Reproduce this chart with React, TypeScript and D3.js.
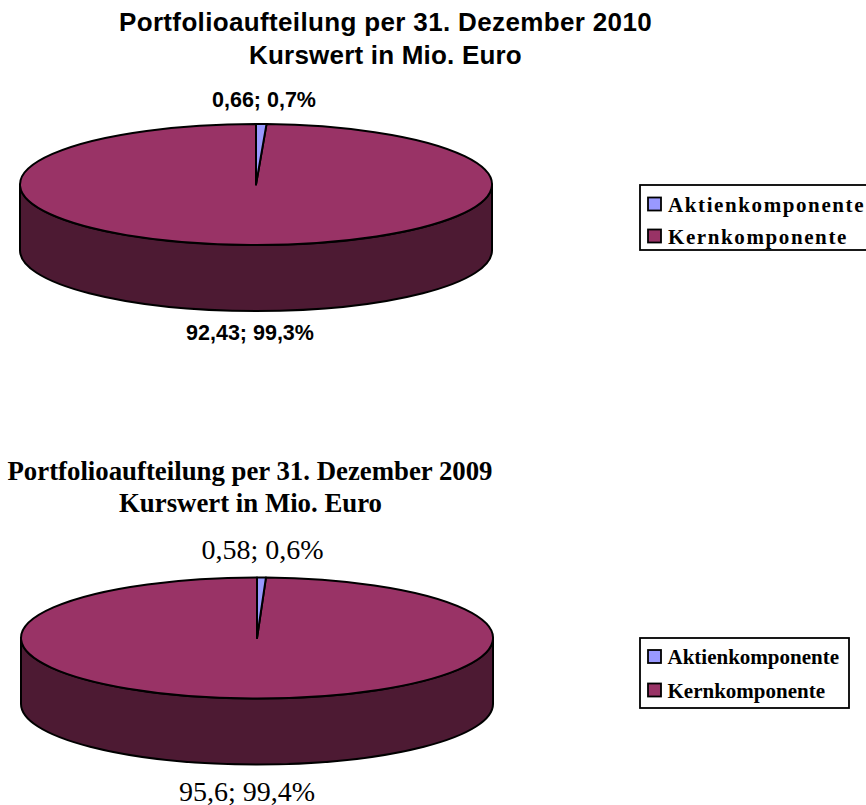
import * as d3 from "d3";
import React from "react";

const SANS = "'Liberation Sans', Arial, sans-serif";
const SERIF = "'Liberation Serif', 'Times New Roman', serif";

const categories = ["Aktienkomponente", "Kernkomponente"];
const colors = ["#9999ff", "#993366"];
const sideColor = "#4d1a33";

const values2010 = [0.66, 92.43];
const labels2010 = ["0,66; 0,7%", "92,43; 99,3%"];
const title2010 = ["Portfolioaufteilung per 31. Dezember 2010", "Kurswert in Mio. Euro"];

const values2009 = [0.58, 95.6];
const labels2009 = ["0,58; 0,6%", "95,6; 99,4%"];
const title2009 = ["Portfolioaufteilung per 31. Dezember 2009", "Kurswert in Mio. Euro"];

const rx = 236;
const ry = 60.5;
const depth = 66;

const Pie3D: React.FC<{ values: number[]; cx: number; cy: number; strokeWidth: number }> = ({ values, cx, cy, strokeWidth }) => {
    const arcs = d3.pie<number>().sort(null).value(d => d)(values);
    const arc = d3.arc<d3.PieArcDatum<number>>().innerRadius(0).outerRadius(rx);
    const k = ry / rx;
    // side wall, drawn in circle space so the group scale squashes it
    const wall = d3.path();
    const d = depth / k;
    wall.moveTo(-rx, 0);
    wall.arc(0, 0, rx, Math.PI, 0, true);
    wall.lineTo(rx, d);
    wall.arc(0, d, rx, 0, Math.PI, false);
    wall.closePath();
    const common = { stroke: "#000", strokeWidth, strokeLinejoin: "round" as const, vectorEffect: "non-scaling-stroke" as const };
    return (
        <g transform={`translate(${cx},${cy}) scale(1,${k})`}>
            <path d={wall.toString()} fill={sideColor} {...common} />
            <path d={arc(arcs[1])!} fill={colors[1]} {...common} />
            <path d={arc(arcs[0])!} fill={colors[0]} {...common} />
        </g>
    );
};

const Legend: React.FC<{ x: number; y: number; w: number; h: number; rows: number[]; fontSize: number; spacing: number; textX: number }> = ({ x, y, w, h, rows, fontSize, spacing, textX }) => (
    <g>
        <rect x={x} y={y} width={w} height={h} fill="#fff" stroke="#000" strokeWidth={1.8} />
        {categories.map((c, i) => (
            <g key={c}>
                <rect x={x + 8} y={rows[i] - 6.5} width={13} height={13} fill={colors[i]} stroke="#000" strokeWidth={1.8} />
                <text x={textX} y={rows[i] + 7.5} fontFamily={SERIF} fontWeight="bold" fontSize={fontSize} letterSpacing={spacing} fill="#000">{c}</text>
            </g>
        ))}
    </g>
);

export default function App() {
    return (
        <svg width={866} height={805} style={{ position: "absolute", left: 0, top: 0 }}>
            <g fontFamily={SANS} fontWeight="bold" textAnchor="middle" fill="#000">
                <text x={385.5} y={30.5} fontSize={26} letterSpacing={0.35}>{title2010[0]}</text>
                <text x={385.5} y={64} fontSize={26} letterSpacing={0.2}>{title2010[1]}</text>
                <text x={264} y={106.5} fontSize={21.5}>{labels2010[0]}</text>
                <text x={250} y={340} fontSize={21.5}>{labels2010[1]}</text>
            </g>
            <Pie3D values={values2010} cx={256} cy={184.5} strokeWidth={2} />
            <Legend x={640} y={185} w={240} h={65} rows={[204, 236]} fontSize={21} spacing={1.6} textX={668} />

            <g fontFamily={SERIF} textAnchor="middle" fill="#000">
                <text x={250} y={479.5} fontSize={26.8} fontWeight="bold">{title2009[0]}</text>
                <text x={250.5} y={512} fontSize={26.8} fontWeight="bold">{title2009[1]}</text>
                <text x={262.5} y={559} fontSize={28}>{labels2009[0]}</text>
                <text x={247} y={800.5} fontSize={28}>{labels2009[1]}</text>
            </g>
            <Pie3D values={values2009} cx={257} cy={638} strokeWidth={2} />
            <Legend x={640} y={638} w={209} h={70} rows={[656.5, 690]} fontSize={21} spacing={0} textX={667.5} />
        </svg>
    );
}
